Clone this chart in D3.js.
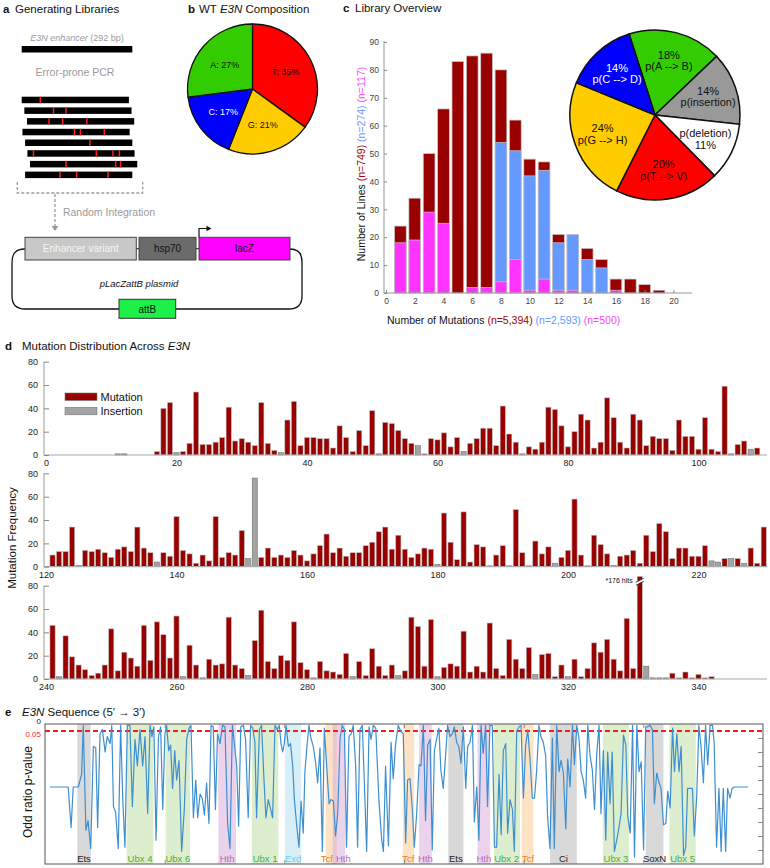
<!DOCTYPE html>
<html><head><meta charset="utf-8">
<script src="https://cdn.jsdelivr.net/npm/d3@7"></script>
<style>
body{margin:0;background:#fff;}
svg{display:block;font-family:"Liberation Sans",Arial,Helvetica,sans-serif;}
</style></head><body>
<svg id="chart" width="770" height="868"></svg>
<script>
// ================= DATA =================
// panel a (schematic, bp units)
const enhancerLength = 292;
const pcrProductLength = 283;
const pcrProductOffset = [0, 7, 14, 2, 9, 15, 22, 9];
const pcrMutationSites = [[49],[84,117],[72,108,172],[139,155,218],[180],[31,197,241,258],[117,248,261],[101,145,228]];

// panel b
const baseNames = ["T","G","C","A"];
const basePct = [35,21,17,27];

// panel c histogram
const mutationBins = [1,2,3,4,5,6,7,8,9,10,11,12,13,14,15,16,17,18,19,20];
const linesTotal   = [24,34,50,66,83,85,86,80,62,48,47,21,21,16,12,5,5,3,1,0];
const linesBlue    = [0,0,0,0,0,0,0,54,51,42,44,18,21,12,9,0,0,0,0,0];
const linesMagenta = [18,19,29,25,0,2,2,4,12,1,5,1,1,0,0,1,0,0,0,0];
const cYTicks = [0,10,20,30,40,50,60,70,80,90];
const cXTicks = [0,2,4,6,8,10,12,14,16,18,20];

// panel c pie
const subTypes = ["p(A --> B)","p(insertion)","p(deletion)","p(T --> V)","p(G --> H)","p(C --> D)"];
const subPct = [18,14,11,20,24,14];

// panel d (index 0 = first position of each row)
const rowStarts = [0,120,240];
const mutRow1 = [0,0,0,0,0,0,0,0,0,0, 0,0,0,0,0,0,0,3,40,45, 0,3,10,54,9,9,11,15,41,12, 14,11,8,45,10,4,0,30,46,8,
 15,15,14,14,6,25,15,3,21,8, 38,0,28,27,21,14,10,0,1,14, 13,19,7,15,0,10,14,23,23,8, 42,18,11,0,7,5,11,41,39,25,
 7,20,35,30,6,11,49,32,11,6, 35,30,8,16,14,14,4,30,16,16, 5,32,5,3,59,0,9,12,0,6];
const insRow1 = [0,0,0,0,0,0,0,0,0,0, 0,1,1,0,0,0,0,0,0,0, 2,0,0,0,0,0,0,0,0,0, 0,0,0,0,0,0,2,0,0,0,
 0,0,0,0,0,0,0,0,0,0, 0,1,0,0,0,0,0,8,0,0, 0,0,0,0,3,0,0,0,0,0, 0,0,0,1,0,0,0,0,0,0,
 0,0,0,0,0,0,0,0,0,0, 0,0,0,0,0,0,0,0,0,0, 0,0,0,0,0,1,0,0,5,0];
const mutRow2 = [0,10,13,13,34,0,14,13,15,12, 8,15,17,13,34,16,12,0,12,9, 43,14,11,3,10,5,43,8,12,10, 31,0,0,8,16,8,10,8,14,10,
 5,11,18,28,12,16,9,12,12,18, 21,30,34,15,27,15,8,11,16,15, 0,46,21,6,47,4,19,17,1,10, 18,1,49,12,1,22,11,17,0,8,
 14,58,10,1,27,19,11,0,9,10, 14,3,27,13,37,30,7,16,16,9, 9,18,0,0,7,0,7,0,16,3,34];
const insRow2 = [0,0,0,0,0,1,0,0,0,0, 0,0,0,0,0,0,0,4,0,0, 0,0,0,0,0,0,0,0,0,0, 0,7,76,0,0,0,0,0,0,0,
 0,0,0,0,0,0,0,0,0,0, 0,0,0,0,0,0,0,0,0,0, 2,0,0,0,0,0,0,0,0,0, 0,0,0,0,0,0,0,0,3,0,
 0,0,0,0,0,0,0,1,0,0, 0,0,0,0,0,0,0,0,0,0, 0,0,5,4,0,7,0,3,0,0,0];
const mutRow3 = [0,46,0,37,19,12,8,3,5,12, 43,7,23,18,11,46,16,49,38,18, 54,0,29,12,0,17,12,13,53,12, 9,0,33,59,15,9,20,16,49,14,
 8,0,15,7,6,4,22,0,15,3, 26,11,3,12,0,7,53,45,11,51, 0,10,13,11,41,6,11,6,48,9, 3,34,17,9,27,0,21,22,2,12,
 0,17,2,9,31,23,34,17,7,52, 9,176,0,0,0,0,5,1,6,1, 4,1,2];
const insRow3 = [0,0,2,0,0,0,0,0,0,0, 0,0,0,0,0,0,0,0,0,0, 0,2,0,0,1,0,0,0,0,0, 0,3,0,0,0,0,0,0,0,0,
 0,1,0,0,0,0,0,2,0,0, 0,0,0,0,3,0,0,0,0,0, 2,0,0,0,0,0,0,0,0,0, 0,0,0,0,0,4,0,0,0,0,
 2,0,0,0,0,0,0,0,0,0, 0,0,11,1,1,1,0,0,0,0, 0,0,0];
const dYTicks = [0,20,40,60,80];

// panel e: [position (bp), odds-ratio p-value]
const oddsPoints = [[2.1,.45],[9.7,.45],[10.9,.74],[11.8,.45],[13.9,.45],[15.3,.36],[16.0,.01],[17.1,.76],[18.0,.69],[19.1,.89],[20.2,.16],[21.2,.17],[22.0,.74],[23.0,.07],[24.0,.04],[25.1,.20],[26.0,.09],[27.2,.14],[27.9,.01],[28.6,.59],[29.5,.63],[30.6,.89],[31.6,.01],[32.5,.54],[33.4,.88],[34.4,.01],[35.5,.01],[36.5,.59],[37.6,.11],[38.6,.30],[39.7,.04],[40.8,.30],[41.8,.09],[42.9,.64],[43.9,.01],[44.7,.09],[45.5,.02],[46.4,.83],[47.4,.09],[48.3,.02],[49.2,.61],[50.1,.07],[50.8,.01],[51.7,.19],[52.5,.15],[53.3,.46],[54.2,.19],[55.0,.40],[56.0,.26],[57.1,.91],[58.2,.61],[59.2,.11],[60.2,.03],[61.0,.01],[62.0,.67],[63.0,.40],[63.8,.67],[64.8,.50],[65.7,.53],[66.6,.65],[67.5,.42],[68.5,.71],[69.4,.01],[70.3,.02],[71.2,.61],[72.1,.07],[73.1,.14],[74.2,.01],[75.2,.02],[76.3,.71],[77.3,.89],[78.3,.01],[79.1,.14],[80.1,.30],[80.9,.73],[81.8,.02],[82.9,.01],[83.8,.11],[84.9,.67],[85.9,.01],[86.8,.03],[87.7,.13],[88.4,.67],[89.6,.04],[90.5,.01],[91.5,.40],[92.3,.67],[93.3,.54],[94.3,.61],[95.1,.67],[96.1,.01],[97.1,.04],[97.9,.01],[98.6,.14],[99.3,.20],[100.0,.14],[100.7,.01],[101.7,.16],[102.6,.14],[103.5,.30],[104.2,.54],[105.2,.73],[106.1,.88],[107.0,.55],[107.9,.78],[108.6,.34],[109.5,.15],[110.3,.01],[111.1,.10],[112.1,.16],[113.1,.28],[113.9,.42],[114.9,.17],[115.9,.91],[116.7,.03],[117.7,.30],[118.7,.57],[119.5,.54],[120.5,.55],[121.4,.80],[122.3,.64],[123.3,.10],[124.2,.01],[125.1,.04],[126.0,.88],[127.0,.09],[127.9,.07],[128.8,.01],[129.8,.30],[130.6,.88],[131.6,.04],[132.6,.01],[133.4,.40],[134.4,.91],[135.4,.02],[136.2,.11],[137.2,.01],[138.2,.03],[139.5,.54],[140.7,.83],[141.4,.91],[142.3,.30],[143.5,.87],[144.6,.13],[145.5,.39],[146.5,.14],[147.6,.01],[148.6,.05],[149.7,.07],[150.7,.85],[151.5,.40],[152.5,.39],[153.5,.61],[154.3,.88],[155.3,.64],[156.3,.29],[157.1,.30],[158.1,.01],[159.0,.69],[159.9,.15],[160.9,.11],[161.8,.90],[162.7,.19],[163.6,.11],[164.6,.03],[165.4,.33],[166.4,.46],[167.4,.22],[168.2,.01],[169.2,.09],[170.2,.07],[171.0,.02],[172.0,.13],[172.9,.16],[173.8,.28],[174.8,.02],[175.8,.46],[176.6,.16],[177.6,.13],[178.6,.01],[179.4,.70],[180.4,.45],[181.3,.83],[182.2,.01],[183.1,.21],[184.1,.01],[184.9,.59],[185.9,.01],[186.9,.01],[187.8,.88],[188.7,.88],[189.7,.36],[190.6,.79],[191.5,.19],[192.5,.14],[193.3,.78],[194.3,.54],[195.3,.61],[196.1,.91],[197.1,.05],[198.1,.02],[198.9,.01],[199.9,.53],[200.8,.16],[201.7,.04],[202.7,.26],[203.6,.53],[204.5,.53],[205.4,.34],[206.4,.01],[207.2,.09],[208.2,.13],[209.2,.23],[210.0,.66],[211.0,.89],[212.0,.10],[212.8,.89],[213.8,.01],[214.8,.34],[215.6,.26],[216.6,.35],[217.6,.75],[218.4,.25],[219.4,.45],[220.4,.01],[221.2,.29],[222.2,.01],[223.1,.10],[224.0,.34],[224.9,.40],[225.9,.53],[226.8,.01],[227.7,.22],[228.7,.33],[229.6,.61],[230.5,.22],[231.5,.01],[232.3,.64],[233.3,.19],[234.3,.83],[235.1,.20],[236.1,.57],[237.0,.20],[237.9,.91],[238.9,.83],[239.9,.73],[240.7,.64],[241.7,.08],[242.7,.15],[243.5,.66],[244.5,.78],[245.5,.01],[246.3,.95],[247.3,.01],[248.2,.34],[249.1,.27],[250.1,.90],[251.0,.02],[251.8,.02],[252.8,.01],[253.8,.04],[254.6,.57],[255.6,.35],[256.6,.42],[257.4,.46],[258.4,.72],[259.4,.71],[260.2,.48],[261.2,.60],[262.2,.03],[263.0,.34],[264.0,.07],[264.9,.34],[265.8,.16],[266.8,.94],[267.7,.88],[268.5,.46],[269.5,.46],[270.5,.46],[271.3,.80],[272.3,.52],[273.2,.01],[274.1,.16],[275.1,.42],[276.0,.01],[276.9,.29],[277.9,.01],[278.9,.01],[279.6,.14],[280.6,.88],[281.6,.46],[282.5,.91],[283.4,.46],[284.4,.91],[285.2,.46],[286.2,.53],[287.1,.46],[288.0,.45],[293.8,.45]];
const siteNames = ["Ets","Ubx 4","Ubx 6","Hth","Ubx 1","Exd","Tcf","Hth","Tcf","Hth","Ets","Hth","Ubx 2","Tcf","Ci","Ubx 3","SoxN","Ubx 5"];
const siteStart = [13.5,34.1,50.4,72.4,86.4,100.3,117.3,120.2,149.5,156.3,168.5,180.7,187.6,199.2,211.0,233.1,251.0,260.9];
const siteEnd   = [19.1,45.3,60.6,79.8,97.5,107.0,121.9,125.4,154.2,161.6,174.8,186.0,198.5,204.1,222.2,244.0,258.4,271.9];
const eBoxTicks = [50,100,150,200,250];
const eRightTicks = [0.1,0.2,0.3,0.4,0.5,0.6,0.7,0.8,0.9];
const eLeftTicks = [0,0.05];

// ================= DRAW =================
const FONT='"Liberation Sans", Arial, Helvetica, sans-serif';
const svg=d3.select("#chart");
svg.append("rect").attr("width",770).attr("height",868).attr("fill","#fff");

function panelTitle(letter,lx,tx,y,parts){
  svg.append("text").attr("x",lx).attr("y",y).attr("font-size",11.5).attr("font-weight","bold").attr("fill","#111").text(letter);
  const t=svg.append("text").attr("x",tx).attr("y",y).attr("font-size",11.5).attr("fill","#111");
  parts.forEach(p=>t.append("tspan").attr("font-style",p[1]?"italic":"normal").text(p[0]));
}
function styleAxis(g,size,color){
  g.attr("font-family",FONT).attr("font-size",size);
  g.selectAll("text").attr("fill",color||"#222");
  g.selectAll(".tick line").attr("stroke","#888");
  g.select(".domain").remove();
}

// ---------- PANEL A ----------
panelTitle("a",3,15,13,[["Generating Libraries",false]]);
const ax=d3.scaleLinear().domain([0,enhancerLength]).range([21.7,132.3]);
{
  const t=svg.append("text").attr("x",77).attr("y",40.5).attr("text-anchor","middle").attr("font-size",9).attr("fill","#9a9a9a");
  t.append("tspan").attr("font-style","italic").text("E3N enhancer");
  t.append("tspan").text(" (292 bp)");
}
svg.append("rect").attr("x",ax(0)).attr("y",46).attr("width",ax(enhancerLength)-ax(0)).attr("height",6.5).attr("fill","#000");
svg.append("text").attr("x",75).attr("y",75.5).attr("text-anchor","middle").attr("font-size",10.5).attr("fill","#9a9a9a").text("Error-prone PCR");
pcrProductOffset.forEach((off,i)=>{
  const y=96.7+i*10.7;
  svg.append("rect").attr("x",ax(off)).attr("y",y).attr("width",ax(off+pcrProductLength)-ax(off)).attr("height",6.5).attr("fill","#000");
  pcrMutationSites[i].forEach(s=>svg.append("rect").attr("x",ax(s)-0.75).attr("y",y).attr("width",1.5).attr("height",6.5).attr("fill","#ff1a1a"));
});
svg.append("path").attr("d","M17.3,182V193H142.7V182").attr("fill","none").attr("stroke","#9a9a9a").attr("stroke-width",1.3).attr("stroke-dasharray","3,2");
svg.append("line").attr("x1",55).attr("x2",55).attr("y1",194).attr("y2",226).attr("stroke","#9a9a9a").attr("stroke-width",1.3).attr("stroke-dasharray","3,2");
svg.append("path").attr("d","M51.5,226L58.5,226L55,231Z").attr("fill","#9a9a9a");
svg.append("text").attr("x",109).attr("y",215.5).attr("text-anchor","middle").attr("font-size",10.5).attr("fill","#9a9a9a").text("Random Integration");
// plasmid
svg.append("path").attr("d","M25,249C15,249 12,254 12,263V296C12,305 16,309 25,309H119M175.7,309H289C298,309 302,305 302,296V262C302,253 298,249 290,249")
  .attr("fill","none").attr("stroke","#111").attr("stroke-width",1.3);
svg.append("line").attr("x1",136.3).attr("x2",139).attr("y1",248.7).attr("y2",248.7).attr("stroke","#111");
svg.append("line").attr("x1",196).attr("x2",199).attr("y1",248.7).attr("y2",248.7).attr("stroke","#111");
[[25,136.3,"#c8c8c8","Enhancer variant","#f5f5f5"],[139,196,"#6b6b6b","hsp70","#111"],[199,290,"#ff00ff","lacZ","#111"]].forEach(b=>{
  svg.append("rect").attr("x",b[0]).attr("y",237.3).attr("width",b[1]-b[0]).attr("height",22.7).attr("fill",b[2]).attr("stroke","#444").attr("stroke-width",1);
  svg.append("text").attr("x",(b[0]+b[1])/2).attr("y",252.3).attr("text-anchor","middle").attr("font-size",10).attr("fill",b[4]).text(b[3]);
});
svg.append("path").attr("d","M199,237.3V228.5H207").attr("fill","none").attr("stroke","#111").attr("stroke-width",1.2);
svg.append("path").attr("d","M206.5,225.8L211.5,228.5L206.5,231.2Z").attr("fill","#111");
svg.append("text").attr("x",139).attr("y",286.5).attr("text-anchor","middle").attr("font-size",9.5).attr("font-style","italic").attr("fill","#111").text("pLacZattB plasmid");
svg.append("rect").attr("x",119).attr("y",299.3).attr("width",56.7).attr("height",19).attr("fill","#1ef04a").attr("stroke","#333");
svg.append("text").attr("x",147.3).attr("y",312.6).attr("text-anchor","middle").attr("font-size",10).attr("fill","#111").text("attB");

// ---------- PANEL B ----------
panelTitle("b",188,199,13,[["WT ",false],["E3N",true],[" Composition",false]]);
{
  const baseColors={T:"#ff0000",G:"#ffcc00",C:"#0000ff",A:"#33cc00"};
  const pie=d3.pie().sort(null).value(d=>d.v)(baseNames.map((n,i)=>({n,v:basePct[i]})));
  const arc=d3.arc().innerRadius(0).outerRadius(65);
  const la=d3.arc().innerRadius(37).outerRadius(37);
  const g=svg.append("g").attr("transform","translate(252.5,89)");
  g.selectAll("path").data(pie).join("path").attr("d",arc).attr("fill",d=>baseColors[d.data.n]).attr("stroke","#111").attr("stroke-width",1.3);
  g.selectAll("text").data(pie).join("text").attr("transform",d=>`translate(${la.centroid(d)})`)
    .attr("text-anchor","middle").attr("dy","0.35em").attr("font-size",9).attr("fill",d=>d.data.n==="C"?"#fff":"#111")
    .text(d=>`${d.data.n}: ${d.data.v}%`);
}

// ---------- PANEL C ----------
panelTitle("c",343,355,12,[["Library Overview",false]]);
{
  const cx=d3.scaleLinear().domain([0,20]).range([386,673.4]);
  const cy=d3.scaleLinear().domain([0,90]).range([293,42]);
  const bw=11.7;
  [[linesTotal,"#990000"],[linesBlue,"#6699ff"],[linesMagenta,"#ff33ff"]].forEach(([arr,col])=>{
    svg.append("g").selectAll("rect").data(mutationBins.map((b,i)=>({b,v:arr[i]})).filter(d=>d.v>0)).join("rect")
      .attr("x",d=>cx(d.b)-bw/2).attr("y",d=>cy(d.v)).attr("width",bw).attr("height",d=>cy(0)-cy(d.v))
      .attr("fill",col).attr("stroke","#c8c8c8").attr("stroke-width",0.7);
  });
  svg.append("line").attr("x1",384).attr("x2",384).attr("y1",293).attr("y2",41).attr("stroke","#999");
  svg.append("line").attr("x1",384).attr("x2",692).attr("y1",293).attr("y2",293).attr("stroke","#999");
  svg.append("g").attr("transform","translate(384,0)").call(d3.axisLeft(cy).tickValues(cYTicks).tickSize(-3).tickPadding(5)).call(g=>styleAxis(g,8.5,"#444"));
  svg.append("g").attr("transform","translate(0,293)").call(d3.axisBottom(cx).tickValues(cXTicks).tickSize(-3).tickPadding(5)).call(g=>styleAxis(g,8.5,"#444"));
  const yl=svg.append("text").attr("transform","translate(365,164) rotate(-90)").attr("text-anchor","middle").attr("font-size",10.5).attr("fill","#111");
  yl.append("tspan").text("Number of Lines ");
  yl.append("tspan").attr("fill","#a00000").text("(n=749) ");
  yl.append("tspan").attr("fill","#6699ff").text("(n=274) ");
  yl.append("tspan").attr("fill","#ff44ff").text("(n=117)");
  const xl=svg.append("text").attr("x",387).attr("y",323.5).attr("font-size",10.5).attr("fill","#111");
  xl.append("tspan").text("Number of Mutations ");
  xl.append("tspan").attr("fill","#a00000").text("(n=5,394) ");
  xl.append("tspan").attr("fill","#6699ff").text("(n=2,593) ");
  xl.append("tspan").attr("fill","#ff44ff").text("(n=500)");
  // pie
  const subColors={"p(A --> B)":"#33cc00","p(insertion)":"#999999","p(deletion)":"#ffffff","p(T --> V)":"#ff0000","p(G --> H)":"#ffcc00","p(C --> D)":"#0000ff"};
  const a0=-0.31;
  const pie=d3.pie().sort(null).startAngle(a0).endAngle(a0+2*Math.PI).value(d=>d.v)(subTypes.map((n,i)=>({n,v:subPct[i]})));
  const arc=d3.arc().innerRadius(0).outerRadius(85);
  const la=d3.arc().innerRadius(56).outerRadius(56);
  const g=svg.append("g").attr("transform","translate(655,115)");
  g.selectAll("path").data(pie).join("path").attr("d",arc).attr("fill",d=>subColors[d.data.n]).attr("stroke","#111").attr("stroke-width",1.5);
  pie.forEach(d=>{
    const c=la.centroid(d);
    const lines=d.data.n==="p(deletion)"?[d.data.n,d.data.v+"%"]:[d.data.v+"%",d.data.n];
    const t=g.append("text").attr("x",c[0]).attr("y",c[1]).attr("text-anchor","middle").attr("font-size",11)
      .attr("fill",d.data.n==="p(C --> D)"?"#fff":"#111");
    t.append("tspan").attr("x",c[0]).attr("dy","-0.2em").text(lines[0]);
    t.append("tspan").attr("x",c[0]).attr("dy","1.05em").text(lines[1]);
  });
}

// ---------- PANEL D ----------
panelTitle("d",5,22,350,[["Mutation Distribution Across ",false],["E3N",true]]);
{
  const rows=[[mutRow1,insRow1],[mutRow2,insRow2],[mutRow3,insRow3]];
  const baselines=[455,566.7,679];
  const rowH=93.3;
  rows.forEach(([mut,ins],r)=>{
    const s=rowStarts[r], base=baselines[r];
    const xs=d3.scaleLinear().domain([s,s+110.5]).range([46,767]);
    const ys=d3.scaleLinear().domain([0,80]).range([base,base-rowH]);
    const bw=5.2;
    const g=svg.append("g");
    const bars=[];
    mut.forEach((v,i)=>{ if(v>0) bars.push({p:s+i,v,t:"m"}); });
    ins.forEach((v,i)=>{ if(v>0) bars.push({p:s+i,v,t:"i"}); });
    g.selectAll("rect").data(bars).join("rect")
      .attr("x",d=>xs(d.p)-bw/2).attr("y",d=>ys(Math.min(d.v,88))).attr("width",bw)
      .attr("height",d=>base-ys(Math.min(d.v,88)))
      .attr("fill",d=>d.t==="m"?"#990000":"#a3a3a3").attr("stroke",d=>d.t==="m"?"#c0c0c0":"#777").attr("stroke-width",0.6);
    // broken bar
    bars.filter(d=>d.v>88).forEach(d=>{
      const x=xs(d.p), y=ys(82.5);
      g.append("path").attr("d",`M${x-4},${y+2.5}L${x+4},${y-1.5}L${x+4},${y-4.5}L${x-4},${y-0.5}Z`).attr("fill","#fff");
      g.append("path").attr("d",`M${x-4},${y+2.5}L${x+4},${y-1.5}M${x-4},${y-0.5}L${x+4},${y-4.5}`).attr("stroke","#222").attr("stroke-width",0.8);
      g.append("text").attr("x",x-7).attr("y",y+0.5).attr("text-anchor","end").attr("font-size",7).attr("fill","#111").text(`*${d.v} hits`);
    });
    svg.append("line").attr("x1",44).attr("x2",767).attr("y1",base).attr("y2",base).attr("stroke","#aaa").attr("stroke-width",1.2);
    svg.append("line").attr("x1",44).attr("x2",44).attr("y1",base).attr("y2",base-rowH).attr("stroke","#999");
    svg.append("g").attr("transform","translate(44,0)").call(d3.axisLeft(ys).tickValues(dYTicks).tickSize(-5).tickPadding(6)).call(g=>styleAxis(g,9,"#222"));
    svg.append("g").attr("transform",`translate(0,${base})`).call(d3.axisBottom(xs).tickValues(d3.range(s,s+101,20)).tickSize(0).tickPadding(5)).call(g=>styleAxis(g,9,"#222"));
  });
  // legend
  svg.append("rect").attr("x",65).attr("y",393).attr("width",32).attr("height",7.5).attr("fill","#990000").attr("stroke","#777").attr("stroke-width",0.6);
  svg.append("rect").attr("x",65).attr("y",407.3).attr("width",32).attr("height",7.5).attr("fill","#a3a3a3").attr("stroke","#777").attr("stroke-width",0.6);
  svg.append("text").attr("x",100.5).attr("y",401).attr("font-size",11).attr("fill","#111").text("Mutation");
  svg.append("text").attr("x",100.5).attr("y",415.3).attr("font-size",11).attr("fill","#111").text("Insertion");
  svg.append("text").attr("transform","translate(15.5,538) rotate(-90)").attr("text-anchor","middle").attr("font-size",11.5).attr("fill","#111").text("Mutation Frequency");
}

// ---------- PANEL E ----------
panelTitle("e",5,22,715.5,[["E3N",true],[" Sequence (5\u2032 \u2192 3\u2032)",false]]);
{
  const ex=d3.scaleLinear().domain([0,300]).range([45,763]);
  const ey=d3.scaleLinear().domain([0,1]).range([724,864]);
  const bandFill={Ets:"rgba(180,180,180,0.5)",Ci:"rgba(180,180,180,0.5)",SoxN:"rgba(180,180,180,0.5)",
    Ubx:"rgba(175,215,140,0.42)",Hth:"rgba(210,160,210,0.45)",Exd:"rgba(170,220,240,0.45)",Tcf:"rgba(252,200,140,0.5)"};
  const labFill={Ets:"#222",Ci:"#222",SoxN:"#222",Ubx:"#3fae49",Hth:"#b766bd",Exd:"#6fcbe8",Tcf:"#f07a2a"};
  const g=svg.append("g");
  siteNames.forEach((n,i)=>{
    const k=n.split(" ")[0];
    g.append("rect").attr("x",ex(siteStart[i])).attr("y",724).attr("width",ex(siteEnd[i])-ex(siteStart[i])).attr("height",140).attr("fill",bandFill[k]);
  });
  const labs=siteNames.map((n,i)=>{
    const k=n.split(" ")[0];
    const t=g.append("text").attr("y",862).attr("text-anchor","middle").attr("font-size",9.5).attr("fill",labFill[k]).text(n);
    return {t,c:(ex(siteStart[i])+ex(siteEnd[i]))/2,w:t.node().getComputedTextLength()};
  });
  for(let i=1;i<labs.length;i++){
    const a=labs[i-1],b=labs[i],need=(a.w+b.w)/2+3,d=b.c-a.c;
    if(d<need){const sh=(need-d)/2;a.c-=sh;b.c+=sh;}
  }
  labs.forEach(l=>l.t.attr("x",l.c));
  g.append("line").attr("x1",45).attr("x2",763).attr("y1",ey(0.05)).attr("y2",ey(0.05)).attr("stroke","#ff1a1a").attr("stroke-width",2).attr("stroke-dasharray","5,3");
  g.append("path").datum(oddsPoints).attr("d",d3.line().x(d=>ex(d[0])).y(d=>ey(d[1])))
    .attr("fill","none").attr("stroke","#3d8fd1").attr("stroke-width",1.2).attr("stroke-linejoin","round");
  g.append("rect").attr("x",45).attr("y",724).attr("width",718).attr("height",140).attr("fill","none").attr("stroke","#555").attr("stroke-width",1);
  svg.append("g").attr("transform","translate(763,0)").call(d3.axisRight(ey).tickValues(eRightTicks).tickSize(-5).tickFormat("")).call(g=>styleAxis(g,9));
  svg.append("g").attr("transform","translate(0,724)").call(d3.axisTop(ex).tickValues(eBoxTicks).tickSize(-4).tickFormat("")).call(g=>styleAxis(g,9));
  svg.append("g").attr("transform","translate(0,864)").call(d3.axisBottom(ex).tickValues(eBoxTicks).tickSize(-4).tickFormat("")).call(g=>styleAxis(g,9));
  svg.append("g").attr("transform","translate(45,0)").call(d3.axisLeft(ey).tickValues(eLeftTicks).tickSize(0).tickPadding(4).tickFormat(d=>d===0?"0":"0.05"))
    .call(g=>{styleAxis(g,8,"#222");
      g.selectAll(".tick text").attr("fill",d=>d===0?"#222":"#ff1a1a").attr("dy",d=>d===0?"-0.05em":"0.7em");});
  svg.append("text").attr("transform","translate(32,792) rotate(-90)").attr("text-anchor","middle").attr("font-size",12).attr("fill","#111").text("Odd ratio p-value");
}
</script>
</body></html>
